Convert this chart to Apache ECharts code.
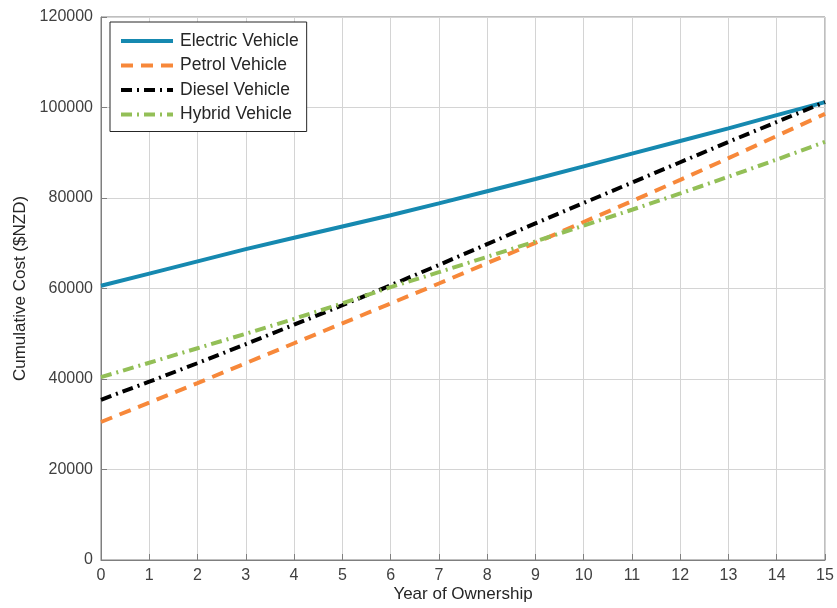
<!DOCTYPE html>
<html>
<head>
<meta charset="utf-8">
<script src="https://cdn.jsdelivr.net/npm/echarts@6/dist/echarts.min.js"></script>
<style>
html,body{margin:0;padding:0;background:#fff;}
#chart{width:837px;height:608px;}
</style>
</head>
<body>
<div id="chart"></div>
<script>
const years = [0,1,2,3,4,5,6,7,8,9,10,11,12,13,14,15];
const electric = [60600,63300,66000,68700,71200,73700,76200,78800,81500,84200,87000,89800,92600,95400,98300,101200];
const petrol   = [30500,34800,39100,43500,47900,52300,56700,61100,65600,70100,74700,79300,84000,88800,93700,98600];
const diesel   = [35400,39400,43500,47700,52000,56300,60700,65200,69800,74400,78900,83400,87900,92400,96800,101200];
const hybrid   = [40400,43600,46800,50000,53300,56700,60300,63600,67000,70400,73900,77400,81000,84700,88500,92400];
const seriesNames = ['Electric Vehicle','Petrol Vehicle','Diesel Vehicle','Hybrid Vehicle'];
const xTitle = 'Year of Ownership';
const yTitle = 'Cumulative Cost ($NZD)';

const toPairs = arr => years.map((y,i)=>[y, arr[i]]);
const font = '"Liberation Sans", Arial, Helvetica, sans-serif';
const axisColor = '#262626';

const chart = echarts.init(document.getElementById('chart'), null, {renderer:'canvas'});
chart.setOption({
  animation:false,
  backgroundColor:'#fff',
  grid:{left:101,right:12,top:17,bottom:48,containLabel:false,outerBoundsMode:'none',show:true,borderColor:'#7f7f7f',borderWidth:1},
  legend:{
    left:110, top:22,
    orient:'vertical',
    backgroundColor:'#fff',
    borderColor:'#262626', borderWidth:1, borderRadius:0,
    padding:[10,8,8,9],
    itemWidth:52, itemHeight:14, itemGap:6.5,
    itemStyle:{opacity:0},
    lineStyle:{width:4},
    textStyle:{fontFamily:font,fontSize:17.5,color:'#262626',padding:[0,0,0,2]},
    data:seriesNames
  },
  xAxis:{
    type:'value', min:0, max:15, interval:1,
    name:xTitle, nameLocation:'middle', nameGap:26, nameMoveOverlap:false,
    nameTextStyle:{fontFamily:font,fontSize:17,color:axisColor},
    axisLine:{show:true,onZero:false,lineStyle:{color:'#7f7f7f',width:1}},
    axisTick:{show:true,inside:true,length:6,lineStyle:{color:'#7f7f7f'}},
    axisLabel:{fontFamily:font,fontSize:16,color:'#404040',margin:8},
    splitLine:{show:true,lineStyle:{color:'#d4d4d4',width:1}}
  },
  yAxis:{
    type:'value', min:0, max:120000, interval:20000,
    name:yTitle, nameLocation:'middle', nameGap:72, nameRotate:90, nameMoveOverlap:false,
    nameTextStyle:{fontFamily:font,fontSize:17,color:axisColor},
    axisLine:{show:true,onZero:false,lineStyle:{color:'#7f7f7f',width:1}},
    axisTick:{show:true,inside:true,length:6,lineStyle:{color:'#7f7f7f'}},
    axisLabel:{fontFamily:font,fontSize:16,color:'#404040',margin:8,formatter:v=>String(v)},
    splitLine:{show:true,lineStyle:{color:'#d4d4d4',width:1}}
  },
  series:[
    {name:seriesNames[0],type:'line',data:toPairs(electric),symbol:'none',
     lineStyle:{color:'#1689b0',width:4,type:'solid'},itemStyle:{color:'#1689b0'}},
    {name:seriesNames[1],type:'line',data:toPairs(petrol),symbol:'none',
     lineStyle:{color:'#f7883a',width:4,type:[12,8]},itemStyle:{color:'#f7883a'}},
    {name:seriesNames[2],type:'line',data:toPairs(diesel),symbol:'none',
     lineStyle:{color:'#000000',width:4,type:[11,5,2,5]},itemStyle:{color:'#000000'}},
    {name:seriesNames[3],type:'line',data:toPairs(hybrid),symbol:'none',
     lineStyle:{color:'#93bf57',width:4,type:[11,5,2,5]},itemStyle:{color:'#93bf57'}}
  ]
});
</script>
</body>
</html>
